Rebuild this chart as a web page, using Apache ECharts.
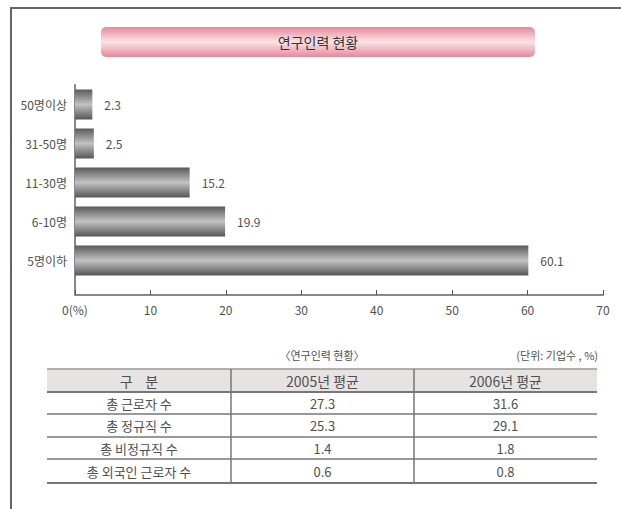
<!DOCTYPE html>
<html><head><meta charset="utf-8">
<script src="https://cdn.jsdelivr.net/npm/echarts@6/dist/echarts.min.js"></script>
<style>html,body{margin:0;padding:0;background:#fff}#c{width:621px;height:509px}</style>
</head><body><div id="c"></div>
<script>
// Chart data
const categories = ['5명이하', '6-10명', '11-30명', '31-50명', '50명이상'];
const values = [60.1, 19.9, 15.2, 2.5, 2.3];
const chartTitle = '연구인력 현황';
// Table data
const tableCaption = '〈연구인력 현황〉';
const tableUnit = '(단위: 기업수 , %)';
const tableHeader = ['구    분', '2005년 평균', '2006년 평균'];
const rowLabels = ['총 근로자 수', '총 정규직 수', '총 비정규직 수', '총 외국인 근로자 수'];
const avg2005 = ['27.3', '25.3', '1.4', '0.6'];
const avg2006 = ['31.6', '29.1', '1.8', '0.8'];

const FONT = '"Noto Sans CJK KR", "Noto Sans", sans-serif';
const TXT = '#505050';
const chart = echarts.init(document.getElementById('c'), null, {renderer: 'svg'});

// table layout
const colX = [47, 231, 414, 597];
const rowY = [369, 392, 414, 437, 459, 483];
const g = [];
// frame
g.push({type: 'line', shape: {x1: 10, y1: 8, x2: 621, y2: 8}, style: {stroke: '#666', lineWidth: 2}});
g.push({type: 'line', shape: {x1: 11, y1: 8, x2: 11, y2: 509}, style: {stroke: '#666', lineWidth: 2}});
// title box
g.push({type: 'rect', shape: {x: 101, y: 27, width: 434, height: 30, r: 5},
  style: {fill: new echarts.graphic.LinearGradient(0, 0, 0, 1, [
    {offset: 0, color: '#e58a9a'}, {offset: 0.5, color: '#fae3e8'}, {offset: 1, color: '#e5899a'}])}});
g.push({type: 'text', x: 318, y: 42, style: {text: chartTitle, font: '14px ' + FONT, fill: '#333', align: 'center', verticalAlign: 'middle'}});
// y axis extension down to x axis
g.push({type: 'line', shape: {x1: 75, y1: 279, x2: 75, y2: 295}, style: {stroke: '#888', lineWidth: 2}});
// table caption
g.push({type: 'text', x: 322, y: 355, style: {text: tableCaption, font: '11px ' + FONT, fill: TXT, align: 'center', verticalAlign: 'middle'}});
g.push({type: 'text', x: 598, y: 355, style: {text: tableUnit, font: '11px ' + FONT, fill: TXT, align: 'right', verticalAlign: 'middle'}});
// header background
g.push({type: 'rect', shape: {x: colX[0], y: rowY[0], width: colX[3] - colX[0], height: rowY[1] - rowY[0]}, style: {fill: '#e8e3e3'}});
// horizontal lines
rowY.forEach((y, i) => {
  g.push({type: 'line', shape: {x1: colX[0], y1: y, x2: colX[3], y2: y},
    style: {stroke: i === 0 ? '#999' : '#777', lineWidth: (i === 1 || i === 5) ? 2 : 1.5}});
});
// vertical dividers
[colX[1], colX[2]].forEach(x => {
  g.push({type: 'line', shape: {x1: x, y1: rowY[0], x2: x, y2: rowY[5]}, style: {stroke: '#777', lineWidth: 1.5}});
});
const cellText = (t, col, row, size) => ({type: 'text', x: (colX[col] + colX[col + 1]) / 2, y: (rowY[row] + rowY[row + 1]) / 2,
  style: {text: t, font: size + 'px ' + FONT, fill: TXT, align: 'center', verticalAlign: 'middle'}});
tableHeader.forEach((t, c) => g.push(cellText(t, c, 0, 14)));
rowLabels.forEach((t, r) => {
  g.push(cellText(t, 0, r + 1, 13));
  g.push(cellText(avg2005[r], 1, r + 1, 13));
  g.push(cellText(avg2006[r], 2, r + 1, 13));
});

chart.setOption({
  animation: false,
  grid: {left: 75, right: 18, top: 85, bottom: 229, containLabel: false},
  xAxis: {type: 'value', min: 0, max: 70, interval: 10, offset: 15,
    axisLine: {show: true, lineStyle: {color: '#888', width: 2}},
    axisTick: {show: true, inside: true, length: 5, lineStyle: {color: '#555'}},
    splitLine: {show: false},
    axisLabel: {color: TXT, fontSize: 12, fontFamily: FONT, margin: 8,
      formatter: v => v === 0 ? '0(%)' : String(v)}},
  yAxis: {type: 'category', data: categories,
    axisLine: {show: true, lineStyle: {color: '#888', width: 2}},
    axisTick: {show: false},
    axisLabel: {color: TXT, fontSize: 12, fontFamily: FONT, margin: 8}},
  series: [{type: 'bar', data: values, barWidth: 30,
    itemStyle: {color: new echarts.graphic.LinearGradient(0, 0, 0, 1, [
      {offset: 0, color: '#5a5a5a'}, {offset: 0.5, color: '#c2c2c2'}, {offset: 1, color: '#555'}])},
    label: {show: true, position: 'right', distance: 12, color: TXT, fontSize: 12, fontFamily: FONT}}],
  graphic: g
});
</script></body></html>
